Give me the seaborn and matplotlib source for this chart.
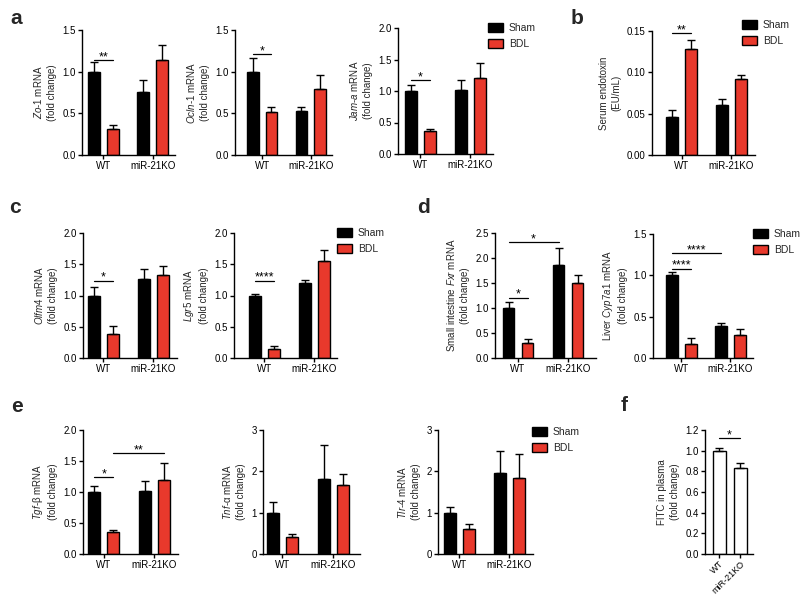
import numpy as np
import pandas as pd
import matplotlib
matplotlib.use("Agg")
import matplotlib.pyplot as plt
import seaborn as sns
from matplotlib.patches import Patch
from matplotlib.ticker import FormatStrFormatter

sns.set_theme(style="ticks")
plt.rcParams["font.family"] = ["Liberation Sans", "DejaVu Sans"]
plt.rcParams["mathtext.fontset"] = "custom"
plt.rcParams["mathtext.it"] = "Liberation Sans:italic"
plt.rcParams["mathtext.rm"] = "Liberation Sans"
plt.rcParams["mathtext.default"] = "regular"

# ---------------- data ----------------
genotypes = ["WT", "miR-21KO"]
treatments = ["Sham", "BDL"]
# order of values: [WT Sham, WT BDL, miR-21KO Sham, miR-21KO BDL]
zo1_mean = [1.00, 0.31, 0.75, 1.14]
zo1_err = [0.11, 0.05, 0.15, 0.18]
ocln1_mean = [1.00, 0.51, 0.53, 0.79]
ocln1_err = [0.16, 0.06, 0.04, 0.17]
jama_mean = [1.00, 0.36, 1.02, 1.20]
jama_err = [0.09, 0.03, 0.15, 0.25]
endotoxin_mean = [0.046, 0.128, 0.060, 0.092]
endotoxin_err = [0.009, 0.011, 0.008, 0.005]
olfm4_mean = [1.00, 0.38, 1.27, 1.33]
olfm4_err = [0.14, 0.13, 0.15, 0.15]
lgr5_mean = [1.00, 0.15, 1.20, 1.56]
lgr5_err = [0.02, 0.05, 0.05, 0.17]
fxr_mean = [1.00, 0.31, 1.87, 1.50]
fxr_err = [0.13, 0.08, 0.33, 0.17]
cyp7a1_mean = [1.00, 0.17, 0.39, 0.28]
cyp7a1_err = [0.04, 0.07, 0.03, 0.07]
tgfb_mean = [1.00, 0.36, 1.02, 1.20]
tgfb_err = [0.09, 0.03, 0.16, 0.26]
tnfa_mean = [1.00, 0.42, 1.81, 1.67]
tnfa_err = [0.25, 0.06, 0.82, 0.27]
tlr4_mean = [1.00, 0.60, 1.97, 1.83]
tlr4_err = [0.14, 0.13, 0.53, 0.58]
fitc_mean = [1.00, 0.83]
fitc_err = [0.03, 0.05]

RED = "#E8392C"
W, H = 800, 596
fig = plt.figure(figsize=(8, 5.96), dpi=100)


def add_ax(box):
    l, r, t, b = box
    return fig.add_axes([l / W, 1 - b / H, (r - l) / W, (b - t) / H])


def style_ax(ax, yticks, fmt, ylabel, xlim):
    sns.despine(ax=ax)
    ax.set_xlim(*xlim)
    ax.set_ylim(0, yticks[-1])
    ax.set_yticks(yticks)
    ax.yaxis.set_major_formatter(FormatStrFormatter(fmt))
    for s in ("left", "bottom"):
        ax.spines[s].set_linewidth(1.0)
        ax.spines[s].set_color("black")
    ax.tick_params(axis="both", direction="out", length=3, width=1.0,
                   colors="black", labelsize=7, pad=1.5)
    ax.set_xlabel("")
    ax.set_ylabel(ylabel, fontsize=7, labelpad=4, linespacing=1.35)


def sig_line(ax, x1, x2, y, text):
    ax.plot([x1, x2], [y, y], color="black", lw=0.9, clip_on=False)
    ax.text((x1 + x2) / 2, y, text, ha="center", va="baseline",
            fontsize=9, color="black")


def grouped_panel(box, xlim, mean, err, ylabel, yticks, fmt, sigs):
    ax = add_ax(box)
    df = pd.DataFrame({
        "genotype": [g for g in genotypes for _ in treatments],
        "treatment": [t for _ in genotypes for t in treatments],
        "value": mean,
        "err": err,
    })
    sns.barplot(data=df, x="genotype", y="value", hue="treatment",
                order=genotypes, hue_order=treatments,
                palette=["black", RED], saturation=1, width=0.76, gap=0.37,
                edgecolor="black", linewidth=1.0, errorbar=None,
                legend=False, ax=ax)
    centers = {}
    for ti, cont in enumerate(ax.containers[:2]):
        for gi, bar in enumerate(cont):
            cx = bar.get_x() + bar.get_width() / 2
            centers[(genotypes[gi], treatments[ti])] = cx
            row = df[(df.genotype == genotypes[gi]) & (df.treatment == treatments[ti])].iloc[0]
            ax.errorbar([cx], [row.value], yerr=[[0], [row.err]], fmt="none",
                        ecolor="black", elinewidth=1.0, capsize=3, capthick=1.0,
                        zorder=1)
    style_ax(ax, yticks, fmt, ylabel, xlim)
    for (k1, k2, y, text) in sigs:
        sig_line(ax, centers[k1], centers[k2], y, text)
    return ax


WS, WB = ("WT", "Sham"), ("WT", "BDL")
KS, KB = ("miR-21KO", "Sham"), ("miR-21KO", "BDL")
t15 = [0, 0.5, 1.0, 1.5]
t20 = [0, 0.5, 1.0, 1.5, 2.0]
t25 = [0, 0.5, 1.0, 1.5, 2.0, 2.5]
t3 = [0, 1, 2, 3]

# ---- a ----
grouped_panel((82, 175, 30, 155), (-0.43, 1.45), zo1_mean, zo1_err,
              "$\\mathit{Zo}$-$\\mathit{1}$ mRNA\n(fold change)", t15, "%.1f",
              [(WS, WB, 1.14, "**")])
grouped_panel((235, 332, 30, 155), (-0.56, 1.44), ocln1_mean, ocln1_err,
              "$\\mathit{Ocln}$-$\\mathit{1}$ mRNA\n(fold change)", t15, "%.1f",
              [(WS, WB, 1.21, "*")])
grouped_panel((398, 493, 28, 154), (-0.44, 1.45), jama_mean, jama_err,
              "$\\mathit{Jam}$-$\\mathit{a}$ mRNA\n(fold change)", t20, "%.1f",
              [(WS, WB, 1.17, "*")])
# ---- b ----
grouped_panel((652, 755, 31, 155), (-0.6, 1.48), endotoxin_mean, endotoxin_err,
              "Serum endotoxin\n(EU/mL)", [0, 0.05, 0.10, 0.15], "%.2f",
              [(WS, WB, 0.147, "**")])
# ---- c ----
grouped_panel((83, 177, 233, 358), (-0.4, 1.47), olfm4_mean, olfm4_err,
              "$\\mathit{Olfm4}$ mRNA\n(fold change)", t20, "%.1f",
              [(WS, WB, 1.24, "*")])
grouped_panel((234, 337, 233, 358), (-0.6, 1.45), lgr5_mean, lgr5_err,
              "$\\mathit{Lgr5}$ mRNA\n(fold change)", t20, "%.1f",
              [(WS, WB, 1.24, "****")])
# ---- d ----
grouped_panel((495, 596, 233, 358), (-0.46, 1.56), fxr_mean, fxr_err,
              "Small intestine $\\mathit{Fxr}$ mRNA\n(fold change)", t25, "%.1f",
              [(WS, WB, 1.21, "*"), (WS, KS, 2.32, "*")])
grouped_panel((653, 753, 234, 358), (-0.58, 1.46), cyp7a1_mean, cyp7a1_err,
              "Liver $\\mathit{Cyp7a1}$ mRNA\n(fold change)", t15, "%.1f",
              [(WS, WB, 1.08, "****"), (WS, KS, 1.27, "****")])
# ---- e ----
grouped_panel((83, 178, 430, 554), (-0.41, 1.47), tgfb_mean, tgfb_err,
              "$\\mathit{Tgf}$-$\\beta$ mRNA\n(fold change)", t20, "%.1f",
              [(WS, WB, 1.24, "*"), (WB, KB, 1.63, "**")])
grouped_panel((263, 360, 430, 554), (-0.38, 1.52), tnfa_mean, tnfa_err,
              "$\\mathit{Tnf}$-$\\alpha$ mRNA\n(fold change)", t3, "%d", [])
grouped_panel((438, 533, 430, 554), (-0.43, 1.48), tlr4_mean, tlr4_err,
              "$\\mathit{Tlr}$-$\\mathit{4}$ mRNA\n(fold change)", t3, "%d", [])

# ---- f ----
axf = add_ax((705, 753, 430, 554))
sns.barplot(x=genotypes, y=fitc_mean, color="white", saturation=1, width=0.62,
            edgecolor="black", linewidth=1.0, errorbar=None, ax=axf)
fcent = []
for bar, e in zip(axf.patches, fitc_err):
    cx = bar.get_x() + bar.get_width() / 2
    fcent.append(cx)
    axf.errorbar([cx], [bar.get_height()], yerr=[[0], [e]], fmt="none",
                 ecolor="black", elinewidth=1.0, capsize=3, capthick=1.0, zorder=1)
style_ax(axf, [0, 0.2, 0.4, 0.6, 0.8, 1.0, 1.2], "%.1f",
         "FITC in plasma\n(fold change)", (-0.67, 1.62))
axf.tick_params(axis="x", labelsize=6.5, pad=0.5)
plt.setp(axf.get_xticklabels(), rotation=45, ha="right", rotation_mode="anchor")
sig_line(axf, fcent[0], fcent[1], 1.12, "*")

# ---- legends ----
handles = [Patch(facecolor="black", edgecolor="black", linewidth=1.0),
           Patch(facecolor=RED, edgecolor="black", linewidth=1.0)]
for (x, y) in [(488, 23), (742, 20), (337, 228), (753, 229), (532, 427)]:
    fig.legend(handles, treatments, loc="upper left",
               bbox_to_anchor=(x / W, 1 - y / H), bbox_transform=fig.transFigure,
               frameon=False, fontsize=7.5, handlelength=1.45, handleheight=0.85,
               handletextpad=0.55, labelspacing=0.6, borderpad=0, borderaxespad=0)

# ---- panel letters ----
for (x, y, s) in [(16, 24, "a"), (577, 24, "b"), (15, 213, "c"), (423, 213, "d"),
                  (17, 412, "e"), (624, 411, "f")]:
    fig.text(x / W, 1 - y / H, s, fontsize=15, fontweight="bold",
             ha="center", va="baseline")

fig.savefig("out.png", dpi=100, facecolor="white")
